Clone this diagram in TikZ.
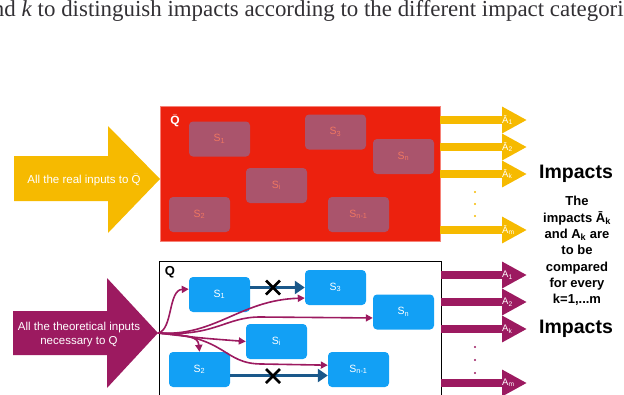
\documentclass[tikz,border=0pt]{standalone}
\usepackage{fontspec}
\setmainfont{Liberation Sans}
\newfontfamily\bookserif{Liberation Serif}
\usepackage{tikz}
\usepackage{xcolor}
\usetikzlibrary{positioning,arrows.meta}
\definecolor{realred}{RGB}{236,33,14}
\definecolor{redrim}{RGB}{246,130,120}
\definecolor{greybox}{RGB}{170,84,108}
\definecolor{salmon}{RGB}{238,118,98}
\definecolor{sysblue}{RGB}{18,160,245}
\definecolor{darkblue}{RGB}{26,88,138}
\definecolor{plum}{RGB}{156,26,96}
\definecolor{gold}{RGB}{246,186,0}
\definecolor{textgray}{RGB}{50,48,52}

\begin{document}
\begin{tikzpicture}[x=1pt,y=1pt]
\tikzstyle{every node}+=[inner sep=0pt]
\tikzstyle{sysreal}=[rectangle, rounded corners=4pt, fill=greybox, minimum width=61pt, minimum height=35pt, text=salmon, font=\fontsize{10.5}{12}\selectfont]
\tikzstyle{systheo}=[rectangle, rounded corners=4pt, fill=sysblue, minimum width=61pt, minimum height=35pt, text=white, font=\fontsize{10.5}{12}\selectfont]
\tikzstyle{flow}=[plum, line width=1.6pt, -{Triangle[length=7pt,width=7pt]}]
\tikzstyle{blocked}=[darkblue, line width=3.5pt, -{Triangle[length=10pt,width=13pt]}]
\tikzstyle{outgold}=[gold, line width=8pt, -{Triangle[length=25pt,width=25pt]}]
\tikzstyle{outplum}=[plum, line width=8pt, -{Triangle[length=25pt,width=25pt]}]
\tikzstyle{headlabel}=[anchor=west, text=white, font=\fontsize{9.5}{10}\selectfont]
\tikzstyle{bigtext}=[text=white, font=\fontsize{11.5}{14}\selectfont, align=center]
\useasboundingbox (0,0) rectangle (624,-394);
\node [anchor=base west, text=textgray, font=\bookserif\fontsize{22.9}{26}\selectfont] (caption) at (-7.3,-16) {nd \textit{k} to distinguish impacts according to the different impact categories};
\fill [gold] (14,-156) -- (108,-156) -- (108,-126) -- (160,-179) -- (108,-233) -- (108,-201) -- (14,-201) -- cycle;
\node [bigtext] (realin) at (84,-180) {All the real inputs to $\bar{\mbox{Q}}$};
\fill [plum] (13,-311) -- (107,-311) -- (107,-278) -- (158,-333) -- (107,-388) -- (107,-355) -- (13,-355) -- cycle;
\node [bigtext] (theoin) at (79,-335) {All the theoretical inputs\\necessary to Q};
\fill [realred] (160,-106) rectangle (440,-241);
\draw [redrim, line width=0.6pt] (160,-106) rectangle (440,-241);
\node [text=white, font=\bfseries\fontsize{12}{14}\selectfont] (qbar) at (175,-121) {$\bar{\mbox{Q}}$};
\node [sysreal] (rS1) at (219.5,-139) {S\textsubscript{1}};
\node [sysreal] (rS3) at (335.5,-132) {S\textsubscript{3}};
\node [sysreal] (rSn) at (403.5,-156.5) {S\textsubscript{n}};
\node [sysreal] (rSi) at (276.5,-185.5) {S\textsubscript{i}};
\node [sysreal] (rS2) at (199.5,-214.5) {S\textsubscript{2}};
\node [sysreal] (rSnm) at (358.5,-214.5) {S\textsubscript{n-1}};
\draw [outgold] (440,-120) -- (527,-120);
\draw [outgold] (440,-147) -- (527,-147);
\draw [outgold] (440,-174) -- (527,-174);
\draw [outgold] (440,-230) -- (527,-230);
\node [headlabel] (rA1) at (502,-120) {Ā\textsubscript{1}};
\node [headlabel] (rA2) at (502,-147) {Ā\textsubscript{2}};
\node [headlabel] (rAk) at (502,-174) {Ā\textsubscript{k}};
\node [headlabel] (rAm) at (502,-230) {Ā\textsubscript{m}};
\fill [gold] (475,-192) circle (1.2);
\fill [gold] (475,-204) circle (1.2);
\fill [gold] (475,-216) circle (1.2);
\draw [black, line width=1pt] (159,-400) -- (159,-261) -- (441,-261) -- (441,-400);
\node [font=\bfseries\fontsize{13}{15}\selectfont] (qlab) at (170,-272) {Q};
\node [systheo] (tS1) at (219.5,-294.5) {S\textsubscript{1}};
\node [systheo] (tS3) at (335.5,-287.5) {S\textsubscript{3}};
\node [systheo] (tSn) at (403.5,-312) {S\textsubscript{n}};
\node [systheo] (tSi) at (276.5,-341.5) {S\textsubscript{i}};
\node [systheo] (tS2) at (199.5,-369.5) {S\textsubscript{2}};
\node [systheo] (tSnm) at (358.5,-369.5) {S\textsubscript{n-1}};
\coordinate (src) at (158,-333);
\draw [flow] (src) .. controls (173,-330) and (168,-290) .. (tS1.170);
\draw [flow] (src) .. controls (215,-337) and (240,-300) .. (tS3.199);
\draw [flow] (src) .. controls (215,-337) and (225,-317) .. (260,-317) -- (tSn.191);
\draw [flow] (src) .. controls (200,-338) .. (tSi.west);
\draw [flow] (src) .. controls (188,-336) and (198,-336) .. (tS2.north);
\draw [flow] (src) .. controls (228,-336) and (222,-364) .. (262,-364) -- (tSnm.172);
\draw [blocked] (tS1.east |- tS3.west) -- (tS3.west);
\draw [blocked] ([yshift=-6pt]tS2.east) -- ([yshift=-6pt]tSnm.west);
\draw [black, line width=2.6pt] (266,-280.5) -- (280,-294.5) (266,-294.5) -- (280,-280.5);
\draw [black, line width=2.6pt] (266,-369) -- (280,-383) (266,-383) -- (280,-369);
\draw [outplum] (441,-275) -- (527,-275);
\draw [outplum] (441,-302) -- (527,-302);
\draw [outplum] (441,-329) -- (527,-329);
\draw [outplum] (441,-383) -- (527,-383);
\node [headlabel] (tA1) at (502,-275) {A\textsubscript{1}};
\node [headlabel] (tA2) at (502,-302) {A\textsubscript{2}};
\node [headlabel] (tAk) at (502,-329) {A\textsubscript{k}};
\node [headlabel] (tAm) at (502,-383) {A\textsubscript{m}};
\fill [plum] (475,-347) circle (1.2);
\fill [plum] (475,-360) circle (1.2);
\fill [plum] (475,-373) circle (1.2);
\node [font=\bfseries\fontsize{19.5}{22}\selectfont] (imp1) at (576,-174) {Impacts};
\node [font=\bfseries\fontsize{13}{16.3}\selectfont, align=center] (compare) at (577,-251) {The\\impacts Ā\textsubscript{k}\\and A\textsubscript{k} are\\to be\\compared\\for every\\k=1,...m};
\node [font=\bfseries\fontsize{19.5}{22}\selectfont] (imp2) at (576,-329) {Impacts};
\end{tikzpicture}
\end{document}
